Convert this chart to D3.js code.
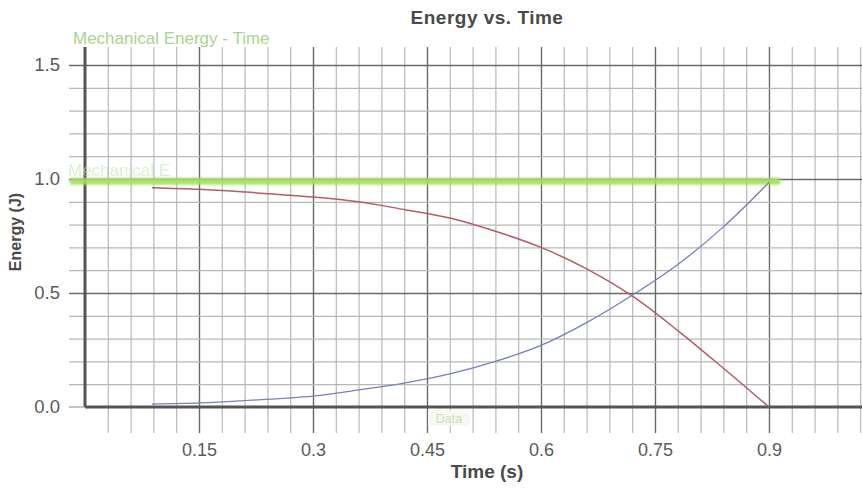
<!DOCTYPE html>
<html>
<head>
<meta charset="utf-8">
<script src="https://cdn.jsdelivr.net/npm/d3@7"></script>
<style>
  html, body { margin: 0; padding: 0; background: #fff; }
  svg { display: block; font-family: "Liberation Sans", Arial, sans-serif; }
</style>
</head>
<body>
<svg id="chart" width="862" height="492"></svg>
<script>
// time samples (s)
const times = [0.088, 0.15, 0.21, 0.3, 0.36, 0.42, 0.48, 0.54, 0.6, 0.66, 0.72, 0.78, 0.84, 0.9];
// kinetic energy (blue) and potential energy (red), J
const kinetic = [0.013, 0.018, 0.028, 0.048, 0.075, 0.105, 0.145, 0.2, 0.27, 0.37, 0.49, 0.625, 0.79, 0.985];
const potential = [0.962, 0.955, 0.943, 0.921, 0.9, 0.866, 0.829, 0.771, 0.70, 0.606, 0.487, 0.335, 0.17, 0.0];
// mechanical energy (green highlight)
const mechTimes = [-0.02, 0.915];
const mechanical = [0.99, 0.99];

const xMajorTicks = [0.15, 0.3, 0.45, 0.6, 0.75, 0.9];
const xMinorTicks = d3.range(1, 35).map(i => +(i * 0.03).toFixed(2));
const yMajorTicks = [0, 0.5, 1.0, 1.5];
const yMinorTicks = d3.range(1, 16).map(i => +(i * 0.1).toFixed(1));

const svg = d3.select('#chart');
const x = d3.scaleLinear().domain([0, 1.0224]).range([85, 862]);
const y = d3.scaleLinear().domain([0, 1.579]).range([407, 47]);

// vertical grid (minor then major)
const vGrid = (vals, color, width) => {
  const g = svg.append('g')
    .attr('transform', 'translate(0,47)')
    .call(d3.axisBottom(x).tickValues(vals).tickSize(386).tickFormat(''));
  g.select('.domain').remove();
  g.selectAll('line').attr('stroke', color).attr('stroke-width', width);
};
vGrid(xMinorTicks.filter(v => !xMajorTicks.some(m => Math.abs(m - v) < 1e-6)), '#b8b8b8', 1.2);
vGrid(xMajorTicks, '#6a6a6a', 1.4);

// horizontal grid
const hGrid = (vals, color, width) => {
  const g = svg.append('g')
    .attr('transform', 'translate(69,0)')
    .call(d3.axisLeft(y).tickValues(vals).tickSize(-(862 - 69)).tickFormat(''));
  g.select('.domain').remove();
  g.selectAll('line').attr('stroke', color).attr('stroke-width', width);
};
hGrid(yMinorTicks.filter(v => !yMajorTicks.some(m => Math.abs(m - v) < 1e-6)), '#b8b8b8', 1.2);
hGrid(yMajorTicks.filter(v => v > 0), '#6a6a6a', 1.4);

// axis lines
svg.append('line')
  .attr('x1', x(0)).attr('x2', x(0))
  .attr('y1', y(1.579)).attr('y2', y(0))
  .attr('stroke', '#555').attr('stroke-width', 3);
svg.append('line')
  .attr('x1', x(0)).attr('x2', 862)
  .attr('y1', y(0)).attr('y2', y(0))
  .attr('stroke', '#555').attr('stroke-width', 3);
svg.append('line')
  .attr('x1', 69).attr('x2', x(0))
  .attr('y1', y(0)).attr('y2', y(0))
  .attr('stroke', '#999').attr('stroke-width', 1.2);

// tick labels
const xLab = svg.append('g')
  .attr('transform', 'translate(0,437)')
  .call(d3.axisBottom(x).tickValues(xMajorTicks).tickSize(0).tickPadding(6).tickFormat(d3.format('')));
xLab.select('.domain').remove();
xLab.selectAll('text').attr('font-size', 18).attr('fill', '#5a5a5a').attr('font-family', 'Liberation Sans, Arial, sans-serif');

const yLab = svg.append('g')
  .attr('transform', 'translate(69,0)')
  .call(d3.axisLeft(y).tickValues(yMajorTicks).tickSize(0).tickPadding(9).tickFormat(d3.format('.1f')));
yLab.select('.domain').remove();
yLab.selectAll('text').attr('font-size', 18.5).attr('fill', '#5a5a5a').attr('font-family', 'Liberation Sans, Arial, sans-serif');

// faint labels
svg.append('text')
  .attr('x', 73).attr('y', 44)
  .attr('font-size', 17).attr('fill', '#a8d48c')
  .text('Mechanical Energy - Time');
svg.append('text')
  .attr('x', 68).attr('y', 176)
  .attr('font-size', 17).attr('fill', '#c3e2aa').attr('opacity', 0.55)
  .text('Mechanical E');
svg.append('rect')
  .attr('x', 428).attr('y', 410).attr('width', 42).attr('height', 16)
  .attr('fill', '#f4f8f0').attr('opacity', 0.9);
svg.append('text')
  .attr('x', 449).attr('y', 423).attr('text-anchor', 'middle')
  .attr('font-size', 12.5).attr('fill', '#c9e0b5')
  .text('Data');

// mechanical energy highlight
const defs = svg.append('defs');
defs.append('filter').attr('id', 'blur')
  .attr('filterUnits', 'userSpaceOnUse')
  .attr('x', 0).attr('y', 0).attr('width', 862).attr('height', 492)
  .append('feGaussianBlur').attr('stdDeviation', 1.1);

const mechLine = d3.line().x((d, i) => x(mechTimes[i])).y(d => y(d));
svg.append('path')
  .datum(mechanical)
  .attr('d', mechLine)
  .attr('fill', 'none')
  .attr('stroke', '#a4e05c')
  .attr('stroke-width', 7)
  .attr('opacity', 0.9)
  .attr('filter', 'url(#blur)');

const line = d3.line()
  .x((d, i) => x(times[i]))
  .y(d => y(d))
  .curve(d3.curveCatmullRom);

svg.append('path')
  .datum(potential)
  .attr('d', line)
  .attr('fill', 'none')
  .attr('stroke', '#b65c64')
  .attr('stroke-width', 1.5);

svg.append('path')
  .datum(kinetic)
  .attr('d', line)
  .attr('fill', 'none')
  .attr('stroke', '#7482b8')
  .attr('stroke-width', 1.3);

// titles
svg.append('text')
  .attr('x', 487).attr('y', 24)
  .attr('text-anchor', 'middle')
  .attr('font-size', 19).attr('font-weight', 'bold').attr('fill', '#4a4a4a')
  .attr('letter-spacing', 0.5)
  .text('Energy vs. Time');
svg.append('text')
  .attr('x', 487).attr('y', 478)
  .attr('text-anchor', 'middle')
  .attr('font-size', 19).attr('font-weight', 'bold').attr('fill', '#4a4a4a')
  .text('Time (s)');
svg.append('text')
  .attr('transform', 'translate(21,232) rotate(-90)')
  .attr('text-anchor', 'middle')
  .attr('font-size', 16).attr('font-weight', 'bold').attr('fill', '#4a4a4a')
  .text('Energy (J)');
</script>
</body>
</html>
